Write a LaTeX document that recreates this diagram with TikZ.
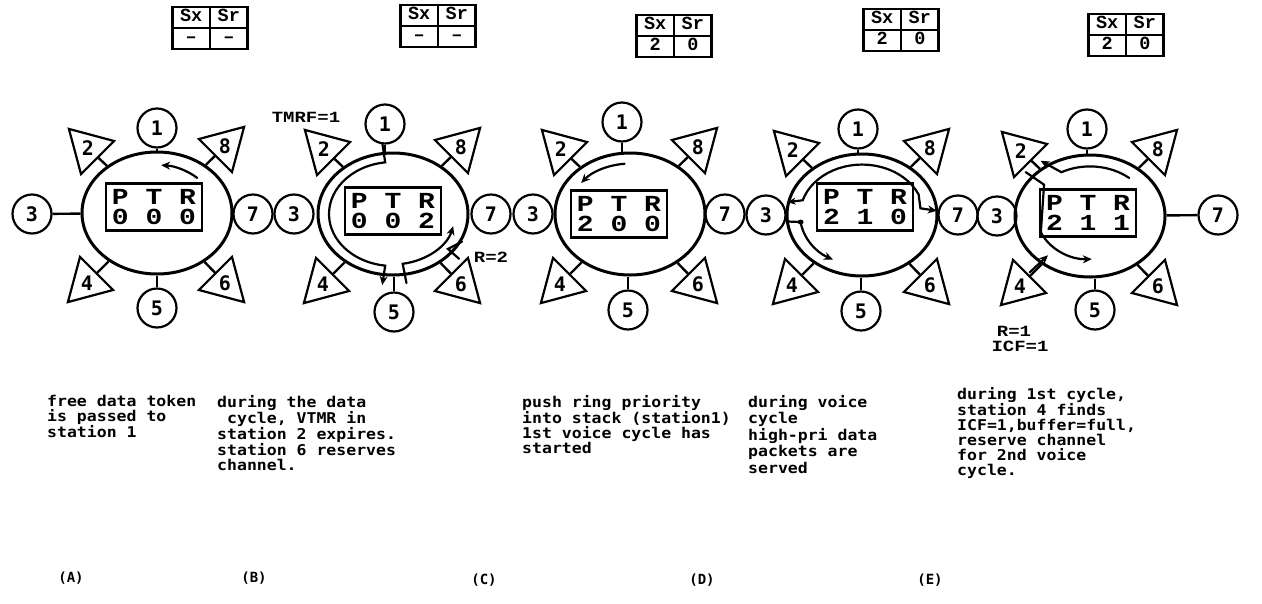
\documentclass[tikz,border=0pt]{standalone}
\usepackage{fontspec}
\usepackage{array}
\setmainfont{DejaVu Sans Mono}
\newfontfamily\slabfont{Liberation Mono}
\usetikzlibrary{shapes.geometric,calc,arrows.meta}
\setlength{\arrayrulewidth}{2.4pt}
\setlength{\tabcolsep}{0pt}
\newcommand{\cellstrut}{\rule[-3pt]{0pt}{12.6pt}}

\tikzset{
  ring/.style={ellipse, draw, line width=3pt, minimum width=150pt, minimum height=122pt, inner sep=0pt},
  stn/.style={circle, draw, line width=2.2pt, minimum size=39pt, inner sep=0pt,
              font=\fontsize{20}{20}\selectfont\bfseries},
  tri/.style={regular polygon, regular polygon sides=3, draw, line width=2.2pt,
              minimum size=54pt, inner sep=0pt, font=\fontsize{20}{20}\selectfont\bfseries},
  stub/.style={line width=2.4pt},
  squash/.style={yscale=0.82, transform shape},
  ptrbox/.style={draw, line width=2.4pt, minimum width=96pt, minimum height=47pt, inner sep=0pt},
  ptrtext/.style={squash, align=center, inner sep=0pt, font=\slabfont\fontsize{28}{25}\selectfont\bfseries},
  stack/.style={inner sep=0pt, font=\slabfont\fontsize{18.5}{18.5}\selectfont\bfseries},
  desc/.style={yscale=0.9, transform shape, anchor=north west, align=left, inner sep=0pt,
               font=\fontsize{16.5}{16.7}\selectfont\bfseries},
  tag/.style={inner sep=0pt, font=\fontsize{14}{14}\selectfont\bfseries},
  note/.style={squash, inner sep=0pt, font=\slabfont\fontsize{19}{19}\selectfont\bfseries},
  token/.style={line width=2.2pt, line cap=round},
  tip/.style={-{Stealth[length=9pt,width=8pt]}},
  inring/.style={shift={(#1)}, yscale=0.813},
}

% ring with the four triangular stations 2, 4, 6, 8
\newcommand{\ringcore}[3]{%
  \node[ring] (#1) at (#2,#3) {};
  \node[tri, regular polygon rotate=45]   (#1t2) at (#2-69,#3-65) {2};
  \node[tri, regular polygon rotate=-45]  (#1t8) at (#2+68,#3-67) {8};
  \node[tri, regular polygon rotate=135]  (#1t4) at (#2-70,#3+70) {4};
  \node[tri, regular polygon rotate=-135] (#1t6) at (#2+68,#3+70) {6};
  \draw[stub] (#1t2) -- (#1);
  \draw[stub] (#1t8) -- (#1);
  \draw[stub] (#1t4) -- (#1);
  \draw[stub] (#1t6) -- (#1);
}

% stations 1 (top) and 5 (bottom) with their vertical stubs
\newcommand{\topbottom}[5]{%
  \node[stn] (#1s1) at (#2,#3) {1};
  \node[stn] (#1s5) at (#4,#5) {5};
  \draw[stub] (#1s1.south) -- (#1s1.south |- #1.north);
  \draw[stub] (#1s5.north) -- (#1s5.north |- #1.south);
}

% Sx / Sr stack table centred at #2,#3
\newcommand{\stacktable}[5]{%
  \node[stack] (#1tab) at (#2,#3) {%
    \begin{tabular}{|wc{35.2pt}|wc{35.2pt}|}\hline
      \cellstrut Sx & Sr \\\hline
      \cellstrut #4 & #5 \\\hline
    \end{tabular}};
}

\begin{document}
\begin{tikzpicture}[x=1pt, y=-1pt]
\fill[white] (0,0) rectangle (1262,603);
\useasboundingbox (0,0) rectangle (1262,603);

% ---------------- (A) ----------------
\stacktable{A}{210}{28}{–}{–}
\ringcore{A}{157}{213}
\topbottom{A}{157}{128}{157}{308}
\node[stn] (As3) at (32,214) {3};
\node[stn] (As7) at (253,214) {7};
\draw[stub] (As3) -- (A);
\node[ptrbox] (Abox) at (154,207) {};
\node[ptrtext] (Aptr) at (Abox) {P T R\\0 0 0};
\begin{scope}[inring=A]
  \draw[token, tip] (47:59pt) arc[start angle=47, end angle=86, radius=59pt];
\end{scope}

% ---------------- (B) ----------------
\stacktable{B}{438}{26}{–}{–}
\ringcore{B}{393}{214}
\topbottom{B}{385}{124}{394}{312}
\node[stn] (Bs3) at (294,214) {3};
\node[stn] (Bs7) at (491,214) {7};
\node[ptrbox] (Bbox) at (393,211) {};
\node[ptrtext] (Bptr) at (Bbox) {P T R\\0 0 2};
\begin{scope}[inring=B]
  \draw[token, tip] (97:86pt) -- (97:64pt)
     arc[start angle=97, end angle=263, radius=64pt] -- (263:88pt);
  \draw[token, tip] (279:86pt) -- (279:62pt)
     arc[start angle=279, end angle=346, radius=62pt];
  \draw[token] (69pt,-34pt) -- (55pt,-43pt) -- (66pt,-55pt);
\end{scope}
\node[note] (tmrf) at (306,117) {TMRF=1};
\node[note] (rtwo) at (491,257) {R=2};

% ---------------- (C) ----------------
\stacktable{C}{674}{36}{2}{0}
\ringcore{C}{630}{214}
\topbottom{C}{622}{122}{628}{310}
\node[stn] (Cs3) at (533,214) {3};
\node[stn] (Cs7) at (725,214) {7};
\node[ptrbox] (Cbox) at (619,214) {};
\node[ptrtext] (Cptr) at (Cbox) {P T R\\2 0 0};
\begin{scope}[inring=C]
  \draw[token, tip] (95:62pt) arc[start angle=95, end angle=142, radius=62pt];
\end{scope}

% ---------------- (D) ----------------
\stacktable{D}{901}{30}{2}{0}
\ringcore{D}{862}{215}
\topbottom{D}{858}{129}{861}{311}
\node[stn] (Ds3) at (766,215) {3};
\node[stn] (Ds7) at (958,215) {7};
\node[ptrbox] (Dbox) at (865,207) {};
\node[ptrtext] (Dptr) at (Dbox) {P T R\\2 1 0};
\begin{scope}[inring=D]
  \draw[token, {Stealth[length=8pt,width=7pt]}-{Stealth[length=9pt,width=8pt]}]
     (168:76pt) -- (163:62pt)
     arc[start angle=163, end angle=24, radius=62pt]
     -- (8:59pt) -- (4:75pt);
  \draw[token] (186:76pt) -- (188:62pt);
  \fill (188:62pt) circle[radius=3pt];
  \draw[token, tip] (188:62pt) arc[start angle=188, end angle=242, radius=62pt];
\end{scope}

% ---------------- (E) ----------------
\stacktable{E}{1126}{35}{2}{0}
\ringcore{E}{1090}{216}
\topbottom{E}{1087}{129}{1095}{310}
\node[stn] (Es3) at (997,216) {3};
\node[stn] (Es7) at (1218,215) {7};
\draw[stub] (Es7) -- (E);
\node[ptrbox] (Ebox) at (1088,213) {};
\node[ptrtext] (Eptr) at (Ebox) {P T R\\2 1 1};
\begin{scope}[inring=E]
  \draw[token, tip] (50:61pt) arc[start angle=50, end angle=118, radius=61pt]
     -- (126:84pt);
  \draw[token, tip] (140:84pt) -- (140:60pt) -- (202:53pt)
     arc[start angle=202, end angle=272, radius=53pt];
  \draw[token, tip] (229:92pt) -- (229:64pt);
\end{scope}
\node[note] (rone) at (1014,331) {R=1};
\node[note] (icf) at (1020,346) {ICF=1};

% ---------------- captions ----------------
\node[desc] (txtA) at (47,395) {free data token\\is passed to\\station 1};
\node[desc] (txtB) at (217,395) {during the data\\\ cycle, VTMR in\\station 2 expires.\\station 6 reserves\\channel.};
\node[desc] (txtC) at (522,395) {push ring priority\\into stack (station1)\\1st voice cycle has\\started};
\node[desc, font=\fontsize{16.5}{18.3}\selectfont\bfseries] (txtD) at (748,395) {during voice\\cycle\\high-pri data\\packets are\\served};
\node[desc] (txtE) at (957,387) {during 1st cycle,\\station 4 finds\\ICF=1,buffer=full,\\reserve channel\\for 2nd voice\\cycle.};

\node[tag] (labA) at (71,578) {(A)};
\node[tag] (labB) at (254,578) {(B)};
\node[tag] (labC) at (484,580) {(C)};
\node[tag] (labD) at (702,580) {(D)};
\node[tag] (labE) at (930,580) {(E)};
\end{tikzpicture}
\end{document}
